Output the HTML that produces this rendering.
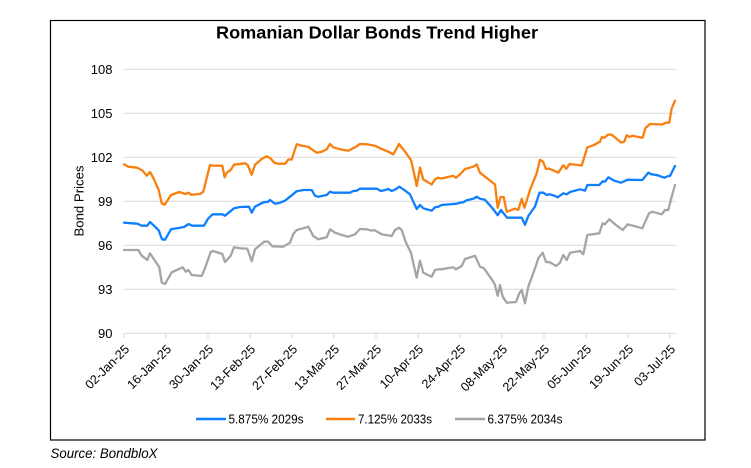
<!DOCTYPE html>
<html>
<head>
<meta charset="utf-8">
<style>
  html,body{margin:0;padding:0;background:#fff;}
  svg{display:block;}
  text{font-family:"Liberation Sans",sans-serif;fill:#000;}
</style>
</head>
<body>
<svg width="751" height="468" viewBox="0 0 751 468" xmlns="http://www.w3.org/2000/svg">
  <rect x="0" y="0" width="751" height="468" fill="#fff"/>
  <!-- frame -->
  <rect x="50.5" y="20.5" width="654.5" height="419.5" fill="none" stroke="#000" stroke-width="1.2"/>
  <!-- title -->
  <text x="377" y="38.5" text-anchor="middle" font-size="17.5" font-weight="bold" textLength="322" lengthAdjust="spacingAndGlyphs">Romanian Dollar Bonds Trend Higher</text>

  <!-- gridlines -->
  <g stroke="#d9d9d9" stroke-width="1">
    <line x1="124" y1="69.3" x2="676" y2="69.3"/>
    <line x1="124" y1="113.3" x2="676" y2="113.3"/>
    <line x1="124" y1="157.3" x2="676" y2="157.3"/>
    <line x1="124" y1="201.3" x2="676" y2="201.3"/>
    <line x1="124" y1="245.3" x2="676" y2="245.3"/>
    <line x1="124" y1="289.3" x2="676" y2="289.3"/>
    <line x1="124" y1="333.3" x2="676" y2="333.3"/>
    <!-- x ticks -->
    <line x1="124" y1="333.3" x2="124" y2="338.5"/>
    <line x1="166" y1="333.3" x2="166" y2="338.5"/>
    <line x1="208" y1="333.3" x2="208" y2="338.5"/>
    <line x1="250" y1="333.3" x2="250" y2="338.5"/>
    <line x1="292" y1="333.3" x2="292" y2="338.5"/>
    <line x1="334" y1="333.3" x2="334" y2="338.5"/>
    <line x1="376" y1="333.3" x2="376" y2="338.5"/>
    <line x1="418" y1="333.3" x2="418" y2="338.5"/>
    <line x1="460" y1="333.3" x2="460" y2="338.5"/>
    <line x1="502" y1="333.3" x2="502" y2="338.5"/>
    <line x1="544" y1="333.3" x2="544" y2="338.5"/>
    <line x1="586" y1="333.3" x2="586" y2="338.5"/>
    <line x1="628" y1="333.3" x2="628" y2="338.5"/>
    <line x1="670" y1="333.3" x2="670" y2="338.5"/>
  </g>

  <!-- y labels -->
  <g font-size="13" text-anchor="end">
    <text x="112.5" y="74">108</text>
    <text x="112.5" y="118">105</text>
    <text x="112.5" y="162">102</text>
    <text x="112.5" y="206">99</text>
    <text x="112.5" y="250">96</text>
    <text x="112.5" y="294">93</text>
    <text x="112.5" y="338">90</text>
  </g>
  <text transform="translate(83.5,201) rotate(-90)" text-anchor="middle" font-size="13" textLength="71" lengthAdjust="spacingAndGlyphs">Bond Prices</text>

  <!-- x labels -->
  <g font-size="12.5" text-anchor="end">
    <text transform="translate(130,350) rotate(-45)">02-Jan-25</text>
    <text transform="translate(172,350) rotate(-45)">16-Jan-25</text>
    <text transform="translate(214,350) rotate(-45)">30-Jan-25</text>
    <text transform="translate(256,350) rotate(-45)">13-Feb-25</text>
    <text transform="translate(298,350) rotate(-45)">27-Feb-25</text>
    <text transform="translate(340,350) rotate(-45)">13-Mar-25</text>
    <text transform="translate(382,350) rotate(-45)">27-Mar-25</text>
    <text transform="translate(424,350) rotate(-45)">10-Apr-25</text>
    <text transform="translate(466,350) rotate(-45)">24-Apr-25</text>
    <text transform="translate(508,350) rotate(-45)">08-May-25</text>
    <text transform="translate(550,350) rotate(-45)">22-May-25</text>
    <text transform="translate(592,350) rotate(-45)">05-Jun-25</text>
    <text transform="translate(634,350) rotate(-45)">19-Jun-25</text>
    <text transform="translate(676,350) rotate(-45)">03-Jul-25</text>
  </g>

  <!-- series -->
  <g fill="none" stroke-width="2.3" stroke-linejoin="round" stroke-linecap="round">
    <polyline stroke="#a5a5a5" points="124,250 138.3,250 141.7,255.7 147.3,260 150,253.3 159.3,267.3 161.7,282.3 165,284 171.7,272.3 182.7,267.3 185.7,271.7 188.3,270 191.7,275 201.7,276 204.3,270 210.7,252 213.3,251 222.3,254 225,262 230.7,255.7 234,247.3 240,248.3 247.3,248.7 251.7,261.3 255,249.3 264,241.7 268.3,241.7 272.3,246.3 283.3,246.7 290,242.7 293.3,234 296.7,230 303.3,228.3 308.3,226.7 313.3,236 318.3,239.3 326.7,237.3 330,229.3 335,232.7 341.7,235 348.3,236.7 355,234.3 360,229 366.7,229.3 371.7,230.7 374.3,230 381.7,234.3 391.7,236 395,230 399,227.7 401.7,230 406,242.7 411,252.7 413.7,265 416.7,277.7 420,260.7 423.3,272.7 431.7,276.7 435,270 438.3,269.3 441.7,269.3 453.3,267.3 456,269.3 461.7,266 465,259 475,255.7 480,266.7 484,268.3 493.3,281.7 495,285 497.7,295.7 500,285 502.7,296.7 506.7,302.7 516,302 519.3,293.3 521.7,290 525,303.3 528.3,286.7 535,268.3 538.3,258.3 542.7,252.7 546,262 550,262.3 556,266 560,262.7 563.3,255 566.7,260 570,252.7 580,251 583.3,254.3 587.3,235 599.3,233.3 602.7,223.3 605,224.3 609.3,219.3 615,224.3 622.7,230 627.7,224.3 642.3,228.3 649,213.3 652.3,211.7 661.7,214.3 665,210 668.3,210 671.7,196.7 675,185"/>
    <polyline stroke="#f9800f" points="124,164.3 128.3,166.7 137.3,167.7 142.7,170.7 146.7,175.7 150,172 154,179.3 158.7,190 161.7,203.3 164.7,204.7 166.7,201.7 171,195 179.3,192 185.3,194 188.7,192.7 191,194.7 200,194 203.3,191.7 210,165 213.3,165.7 222.3,165.7 224.7,177.3 226.7,172.7 230.7,170 234,164.7 245,163.3 247.7,165 251.7,174.7 255,164.7 261.7,159 266.7,156.3 270,158 274.3,162.7 278.3,163.7 285.3,163.7 288.3,159.5 291.7,159.5 296.7,144.2 301.7,145.7 308.3,146.7 311.7,149.3 316.7,152.7 321.7,151.7 326.7,149.3 330,144 333.3,147.3 340,149.3 348.3,150.7 355,147.3 360,144 366.7,144.3 375,145.7 380,148.3 388.3,151.7 393.3,154.3 399,144 405,151.7 411,160 413.7,171.7 416.7,186 420,167.5 423.3,179.5 431.7,184.5 435,179.3 438.3,177.7 441.7,178.5 453.3,175.8 456,177.8 461.7,172.7 465,169 473.3,166.7 476.7,164.5 480,172.7 485,176.7 495,184.5 497.7,207.8 500.5,197 503.7,197 506.7,211.8 515,208.7 518.3,209.8 521.7,198.8 524.5,207.8 530,190 536.7,173.3 540,159.8 543,161.7 546,169 549.3,168.7 558.3,172.7 563.3,165.2 566.3,168.7 569.5,164 581.7,165.5 587.3,147.3 593.3,145.3 600,141.7 602,137 604.3,137.8 608.3,134.5 611.7,134.7 616.3,138.5 621,142.5 624.2,141.7 626.7,135.2 629.2,137 632.5,135.8 642.5,137.8 645.5,128 650,124 662.5,124.5 665.5,122.7 669.2,122.7 671.7,108.3 675,100.7"/>
    <polyline stroke="#0f7fff" points="124,222.7 137.3,223.7 141.7,225.7 147.3,225.7 150,222 155,226.7 158.7,230.3 162,239.3 165,239.7 171,229.3 180,227.7 184,227 188.7,224 192,225.7 204,225.7 208.3,218.3 212.7,214.3 222.3,214.3 225,215.7 234,208.3 240,207 249,206.7 251.7,212.7 255,206.7 263.3,202.3 268.3,201.7 270,200 275,203.7 280,202.7 285,200.7 290,196.7 296.7,191.2 303.3,190 311.7,190 315,195.8 318.3,196.7 326.7,195 330,191.7 333.3,192.7 350,192.7 353.3,191 356.7,190.7 360,188.7 376.7,188.7 381,191 385,190 388.3,189 391.7,191 395.7,189.3 399.3,186.7 403.3,189.3 410,194.3 413.3,201.7 416.7,209 420,205 423.3,208.3 431.7,210.7 435,207.3 438.3,206.7 441.7,205 456.7,203.7 460,202.7 463.3,202.3 466.7,200.3 473.3,198.7 476.7,196.7 480,198.7 485,199.7 493.3,209.3 497.7,215.2 501,210 507,217.7 521.7,217.7 525,224.8 528.3,216 535,206.5 539.5,192.7 543.3,192.7 546.7,195 550,194.3 555,196 557.7,197.3 563.3,193.3 566.7,194.3 570,192 580,189.3 585,190.7 587.3,185 599.3,185 602.7,181.3 605,181.7 608.3,177.3 614.3,180.7 621,182.7 627.7,179.7 642.3,180 648.3,172.7 651.7,174.3 656.7,175 664.3,177.7 668.3,176 670,176 675,166"/>
  </g>

  <!-- legend -->
  <g stroke-width="2.5">
    <line x1="196" y1="419" x2="226" y2="419" stroke="#0f7fff"/>
    <line x1="326" y1="419" x2="355" y2="419" stroke="#f9800f"/>
    <line x1="455" y1="419" x2="485" y2="419" stroke="#a5a5a5"/>
  </g>
  <g font-size="13">
    <text x="228.5" y="423.5" textLength="75" lengthAdjust="spacingAndGlyphs">5.875% 2029s</text>
    <text x="358" y="423.5" textLength="74" lengthAdjust="spacingAndGlyphs">7.125% 2033s</text>
    <text x="487.5" y="423.5" textLength="75" lengthAdjust="spacingAndGlyphs">6.375% 2034s</text>
  </g>

  <!-- source -->
  <text x="50.5" y="458" font-size="13.5" font-style="italic" textLength="107" lengthAdjust="spacingAndGlyphs">Source: BondbloX</text>
</svg>
</body>
</html>
